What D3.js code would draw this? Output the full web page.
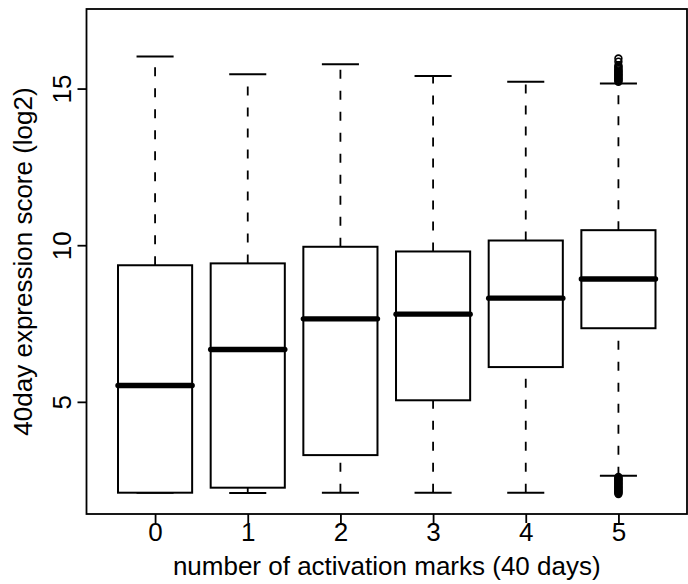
<!DOCTYPE html>
<html>
<head>
<meta charset="utf-8">
<script src="https://cdn.jsdelivr.net/npm/d3@7"></script>
<style>
  html, body { margin: 0; padding: 0; background: #fff; }
  svg { display: block; }
  text { font-family: "Liberation Sans", Arial, Helvetica, sans-serif; fill: #000; }
</style>
</head>
<body>
<svg id="chart" width="688" height="584"></svg>
<script>
// Number of activation marks at 40 days
const categories = ["0", "1", "2", "3", "4", "5"];

// Five-number summaries (log2 expression) per group
const lowerWhisker = [2.10, 2.09, 2.10, 2.10, 2.10, 2.64];
const q1           = [2.10, 2.26, 3.30, 5.05, 6.11, 7.35];
const medians      = [5.52, 6.67, 7.65, 7.80, 8.31, 8.92];
const q3           = [9.36, 9.42, 9.95, 9.80, 10.15, 10.48];
const upperWhisker = [16.02, 15.46, 15.78, 15.40, 15.22, 15.16];

// Outlying points of the "5" group
const outliersHigh = [15.22, 15.25, 15.28, 15.31, 15.34, 15.37, 15.40, 15.43, 15.46,
                      15.49, 15.52, 15.55, 15.58, 15.62, 15.66, 15.70, 15.74, 15.86, 15.96];
const outliersLow  = [2.60, 2.57, 2.54, 2.51, 2.48, 2.45, 2.42, 2.39, 2.36, 2.33,
                      2.30, 2.27, 2.24, 2.21, 2.18, 2.15, 2.12, 2.09, 2.06];

const yTicks = [5, 10, 15];
const xTitle = "number of activation marks (40 days)";
const yTitle = "40day expression score (log2)";

const plot = { left: 86.5, right: 687, top: 9, bottom: 514 };
const FONT = 26;

const svg = d3.select("#chart");

const x = d3.scaleLinear().domain([0.26, 6.74]).range([plot.left, plot.right]);
const y = d3.scaleLinear().domain([1.42, 17.54]).range([plot.bottom, plot.top]);

const step = x(2) - x(1);
const boxW = step * 0.8;
const capW = step * 0.4;

const groups = categories.map((c, i) => ({
  cat: c, pos: i + 1,
  lo: lowerWhisker[i], q1: q1[i], med: medians[i], q3: q3[i], hi: upperWhisker[i]
}));

const g = svg.append("g");

// whiskers (dashed)
g.selectAll("line.wlow").data(groups).join("line")
  .attr("x1", d => x(d.pos)).attr("x2", d => x(d.pos))
  .attr("y1", d => y(d.lo)).attr("y2", d => y(d.q1))
  .attr("stroke", "#000").attr("stroke-width", 1.8).attr("stroke-dasharray", "9,12");
g.selectAll("line.whigh").data(groups).join("line")
  .attr("x1", d => x(d.pos)).attr("x2", d => x(d.pos))
  .attr("y1", d => y(d.q3)).attr("y2", d => y(d.hi))
  .attr("stroke", "#000").attr("stroke-width", 1.8).attr("stroke-dasharray", "9,12");

// whisker caps
["lo", "hi"].forEach(k => {
  g.selectAll("line.cap-" + k).data(groups).join("line")
    .attr("x1", d => x(d.pos) - capW / 2).attr("x2", d => x(d.pos) + capW / 2)
    .attr("y1", d => y(d[k])).attr("y2", d => y(d[k]))
    .attr("stroke", "#000").attr("stroke-width", 2);
});

// boxes
g.selectAll("rect.box").data(groups).join("rect")
  .attr("x", d => x(d.pos) - boxW / 2).attr("width", boxW)
  .attr("y", d => y(d.q3)).attr("height", d => y(d.q1) - y(d.q3))
  .attr("fill", "#fff").attr("stroke", "#000").attr("stroke-width", 2);

// medians
g.selectAll("line.med").data(groups).join("line")
  .attr("x1", d => x(d.pos) - boxW / 2).attr("x2", d => x(d.pos) + boxW / 2)
  .attr("y1", d => y(d.med)).attr("y2", d => y(d.med))
  .attr("stroke", "#000").attr("stroke-width", 5.4).attr("stroke-linecap", "round");

// outliers of the last group
const lastPos = categories.length;
g.selectAll("circle.out").data(outliersHigh.concat(outliersLow)).join("circle")
  .attr("cx", x(lastPos)).attr("cy", d => y(d)).attr("r", 3.4)
  .attr("fill", "none").attr("stroke", "#000").attr("stroke-width", 1.6);

// plot frame
svg.append("rect")
  .attr("x", plot.left).attr("y", plot.top)
  .attr("width", plot.right - plot.left).attr("height", plot.bottom - plot.top)
  .attr("fill", "none").attr("stroke", "#000").attr("stroke-width", 1.8);

// y axis
const yAxis = svg.append("g")
  .attr("transform", `translate(${plot.left},0)`)
  .call(d3.axisLeft(y).tickValues(yTicks).tickSize(9).tickSizeOuter(0));
yAxis.select(".domain").remove();
yAxis.selectAll(".tick line").attr("stroke", "#000").attr("stroke-width", 1.8);
yAxis.selectAll(".tick text")
  .attr("x", null).attr("dy", null).attr("y", null)
  .attr("transform", "translate(-15.5,0) rotate(-90)")
  .attr("text-anchor", "middle")
  .style("font-size", FONT + "px")
  .style("font-family", '"Liberation Sans", Arial, Helvetica, sans-serif');

// x axis
const xAxis = svg.append("g")
  .attr("transform", `translate(0,${plot.bottom})`)
  .call(d3.axisBottom(x).tickValues(groups.map(d => d.pos))
    .tickFormat(p => categories[p - 1]).tickSize(9).tickSizeOuter(0));
xAxis.select(".domain").remove();
xAxis.selectAll(".tick line").attr("stroke", "#000").attr("stroke-width", 1.8);
xAxis.selectAll(".tick text")
  .attr("y", 27.3).attr("dy", null)
  .attr("text-anchor", "middle")
  .style("font-size", FONT + "px")
  .style("font-family", '"Liberation Sans", Arial, Helvetica, sans-serif');

// axis titles
svg.append("text")
  .attr("x", (plot.left + plot.right) / 2).attr("y", 575)
  .attr("text-anchor", "middle").style("font-size", FONT + "px")
  .text(xTitle);
svg.append("text")
  .attr("transform", `translate(32,${(plot.top + plot.bottom) / 2}) rotate(-90)`)
  .attr("text-anchor", "middle").style("font-size", FONT + "px")
  .text(yTitle);
</script>
</body>
</html>
